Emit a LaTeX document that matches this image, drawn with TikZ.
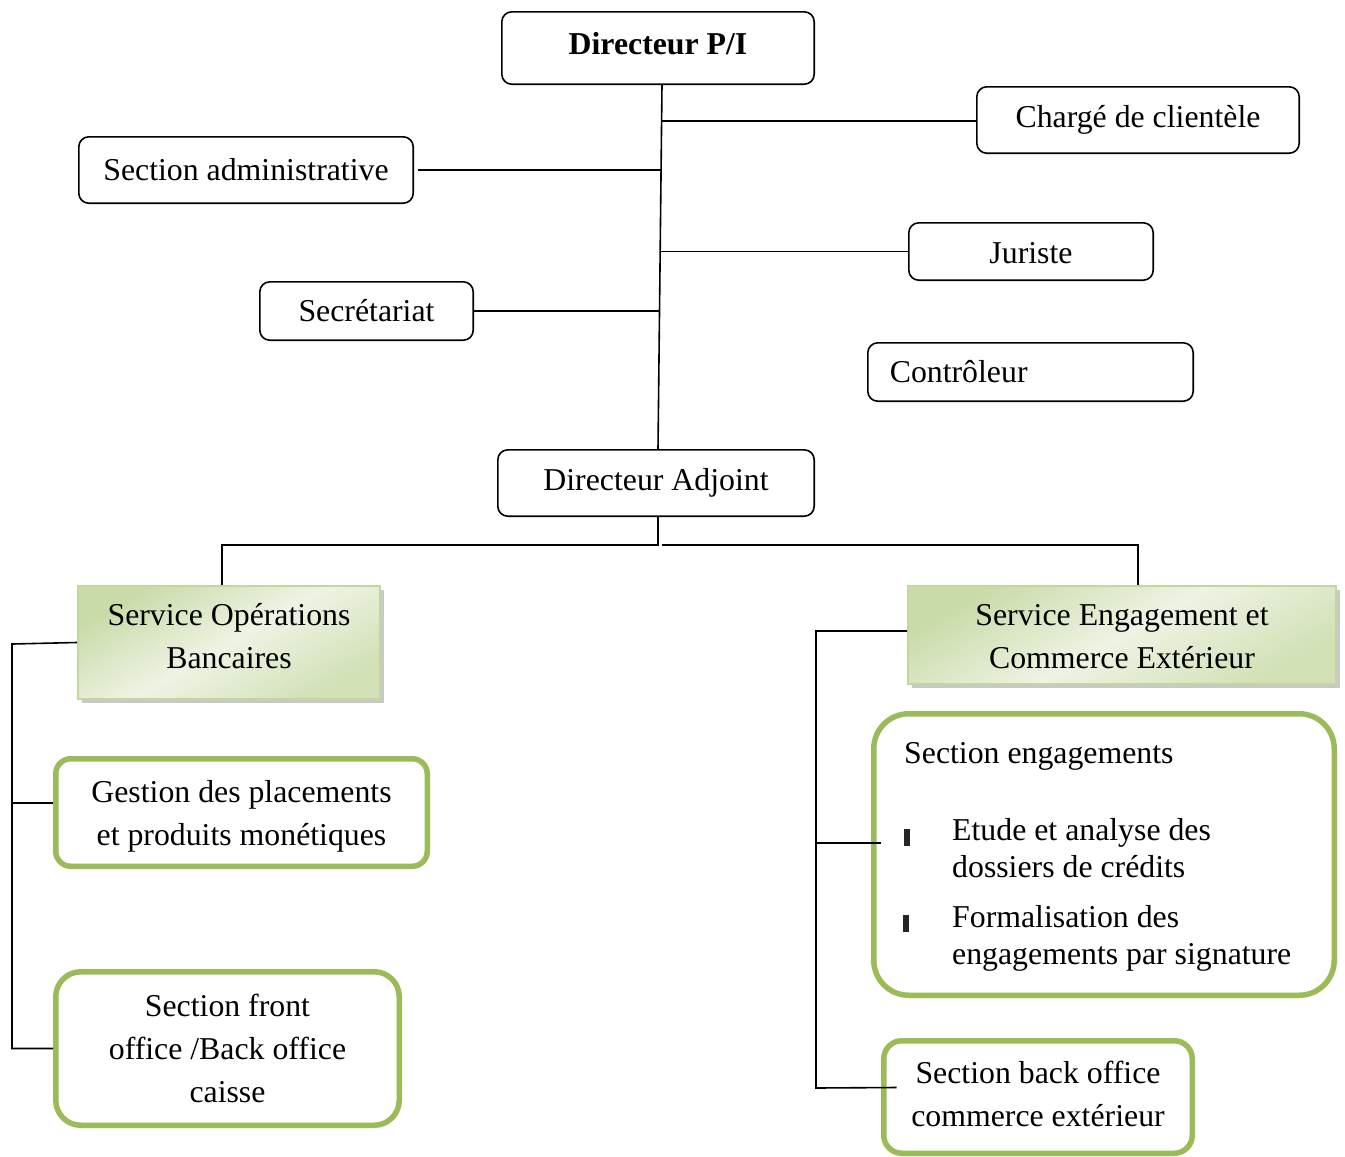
\documentclass[tikz,border=0pt]{standalone}
\usepackage{fontspec}
\setmainfont{Liberation Serif}
\usetikzlibrary{shadows}
\definecolor{accgreen}{HTML}{9BBB59}
\definecolor{lightbord}{HTML}{C3D69B}
\definecolor{gradA}{HTML}{C9DBA8}
\definecolor{gradB}{HTML}{EEF3E4}
\definecolor{shadowgray}{HTML}{C8C8C8}
\begin{document}
\begin{tikzpicture}[x=1pt,y=-1pt,
  every node/.style={font=\fontsize{31.8pt}{43pt}\selectfont, inner sep=0pt},
  blackbox/.style={draw=black, line width=1.6pt, rounded corners=10pt, align=center},
  servicebox/.style={draw=lightbord, line width=2pt, align=center,
     left color=gradA, right color=gradA!85!white, middle color=gradB, shading angle=30,
     drop shadow={shadow xshift=4pt, shadow yshift=-4pt, fill=shadowgray, opacity=1}},
  greenbox/.style={draw=accgreen, line width=5.5pt, fill=white, align=center},
  boxtext/.style={align=center},
  conn/.style={line width=1.6pt, black},
  linetext/.style={anchor=base west},
  bullet/.style={fill=black!85, minimum width=6pt, minimum height=17pt}]
\useasboundingbox (0,0) rectangle (1345,1157);

% top level
\node[blackbox, minimum width=312.4pt, minimum height=72.4pt] (dir) at (658,48) {};
\node[boxtext, font=\fontsize{31.8pt}{43pt}\selectfont\bfseries] (dir-t) at ([yshift=4pt]dir.center) {Directeur P/I};
\node[blackbox, minimum width=322.4pt, minimum height=66.4pt] (charge) at (1138,120) {Chargé de clientèle};
\node[blackbox, minimum width=334.4pt, minimum height=66.4pt] (admin) at (246,170) {Section administrative};
\node[blackbox, minimum width=244.4pt, minimum height=57.4pt] (juriste) at (1031,251.5) {};
\node[boxtext] (juriste-t) at ([yshift=-2pt]juriste.center) {Juriste};
\node[blackbox, minimum width=213.4pt, minimum height=58.4pt] (secr) at (366.5,311) {Secrétariat};
\node[blackbox, align=left, inner xsep=22pt, text width=281.4pt, minimum height=58.4pt] (ctrl) at (1030.5,372) {Contrôleur};
\node[blackbox, minimum width=316.4pt, minimum height=66.4pt] (adj) at (656,483) {Directeur Adjoint};

% services
\node[servicebox, minimum width=302pt, minimum height=113pt] (sob) at (229,642.5) {};
\node[boxtext] (sob-t) at ([yshift=6pt]sob.center) {Service Opérations\\Bancaires};
\node[servicebox, minimum width=428pt, minimum height=98pt] (sece) at (1122,635) {};
\node[boxtext] (sece-t) at ([yshift=-2pt]sece.center) {Service Engagement et\\Commerce Extérieur};

% sections
\node[greenbox, rounded corners=15pt, minimum width=371.5pt, minimum height=107.5pt] (gest) at (241.5,812.5) {};
\node[boxtext] (gest-t) at ([yshift=-4pt]gest.center) {Gestion des placements\\et produits monétiques};
\node[greenbox, rounded corners=25pt, minimum width=343.5pt, minimum height=153.5pt] (front) at (227.5,1048.5) {Section front\\office /Back office\\caisse};
\node[greenbox, rounded corners=35pt, minimum width=460.5pt, minimum height=281.5pt] (engs) at (1104,854.5) {};
\node[greenbox, rounded corners=18pt, minimum width=308.5pt, minimum height=112.5pt] (bo) at (1038,1097) {};
\node[boxtext] (bo-t) at ([yshift=3pt]bo.center) {Section back office\\commerce extérieur};

% text of Section engagements
\node[linetext] (e0) at (904,763) {Section engagements};
\node[bullet] (bul1) at (907,837) {};
\node[linetext] (e1) at (952,840) {Etude et analyse des};
\node[linetext] (e2) at (952,877) {dossiers de crédits};
\node[bullet] (bul2) at (906,923) {};
\node[linetext] (e3) at (952,927) {Formalisation des};
\node[linetext] (e4) at (952,964) {engagements par signature};

% trunk coordinates
\coordinate (tc) at (661.6,0);
\coordinate (ta) at (661.1,0);
\coordinate (tj) at (660.2,0);
\coordinate (ts) at (659.5,0);
\coordinate (jl) at (222,545);
\coordinate (jr) at (1138,545);
\coordinate (lb) at (12,644);
\coordinate (rb) at (816,631);
\coordinate (rbot) at (816,1088);
\coordinate (g1) at ([yshift=9.5pt]gest.west);
\coordinate (s1) at ([xshift=9.5pt,yshift=11.5pt]engs.west);
\coordinate (b1) at ([xshift=15.5pt,yshift=9.5pt]bo.west);

% connectors
\draw[conn] ([xshift=4pt]dir.south) -- ([xshift=2pt]adj.north);
\draw[conn] ([yshift=-1pt]charge.west) -- ([yshift=-1pt]charge.west -| tc);
\draw[conn] ([xshift=4pt]admin.east) -- (admin.east -| ta);
\draw[conn] (juriste.west) -- (juriste.west -| tj);
\draw[conn] (secr.east) -- (secr.east -| ts);
\draw[conn] ([xshift=2pt]adj.south) |- (jl) -- (jl |- sob.north);
\draw[conn] ([xshift=6pt]adj.south |- jr) -- (jr) -- (jr |- sece.north);
\draw[conn] (sob.west) -- (lb) |- (front.west);
\draw[conn] (g1) -- (g1 -| lb);
\draw[conn] ([yshift=4pt]sece.west) -- (rb) -- (rbot) -- (b1);
\draw[conn] (s1) -- (s1 -| rb);
\end{tikzpicture}
\end{document}
